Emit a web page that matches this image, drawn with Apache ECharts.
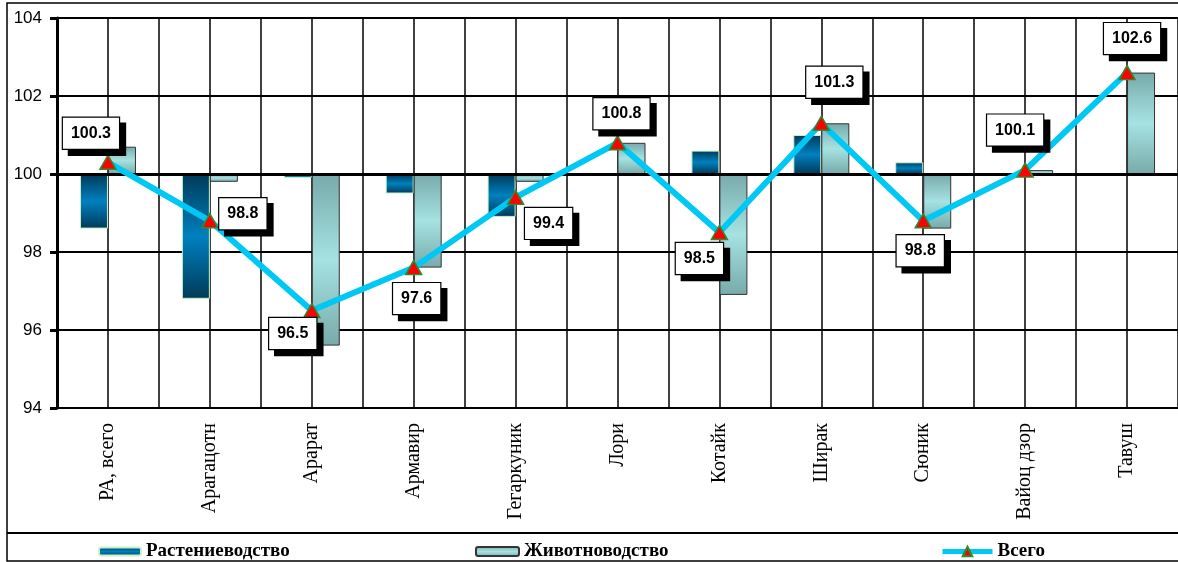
<!DOCTYPE html>
<html>
<head>
<meta charset="utf-8">
<script src="https://cdn.jsdelivr.net/npm/echarts@6/dist/echarts.min.js"></script>
<style>
html,body{margin:0;padding:0;background:#fff;}
#chart{width:1178px;height:562px;}
</style>
</head>
<body>
<div id="chart"></div>
<script>
// ---- data ----
const categories = ['РА, всего','Арагацотн','Арарат','Армавир','Гегаркуник','Лори','Котайк','Ширак','Сюник','Вайоц дзор','Тавуш'];
const plantValues = [98.6, 96.8, 99.9, 99.5, 98.9, 100.0, 100.6, 101.0, 100.3, 100.0, 100.0];
const animalValues = [100.7, 99.8, 95.6, 97.6, 99.8, 100.8, 96.9, 101.3, 98.6, 100.1, 102.6];
const totalValues = [100.3, 98.8, 96.5, 97.6, 99.4, 100.8, 98.5, 101.3, 98.8, 100.1, 102.6];
const seriesNames = ['Растениеводство', 'Животноводство', 'Всего'];
const baseline = 100;
// label box offsets (layout only)
const labelOffsets = [[-17,-29],[33,-7],[-19,23],[3,31],[33,26],[4,-29],[-20,26],[13,-41],[-3,30],[-10,-40],[5,-34]];

const chart = echarts.init(document.getElementById('chart'), null, {renderer:'canvas'});

function baseOf(arr){ return arr.map(v => Math.min(v, baseline)); }
function deltaOf(arr){ return arr.map(v => +(Math.abs(v - baseline)).toFixed(3)); }

const darkGrad = {type:'linear', x:0, y:0, x2:0, y2:1, colorStops:[
  {offset:0, color:'#003a58'},{offset:0.5, color:'#0080bf'},{offset:1, color:'#003a58'}]};
const lightGrad = {type:'linear', x:0, y:0, x2:0, y2:1, colorStops:[
  {offset:0, color:'#78aaaa'},{offset:0.5, color:'#a6e2e2'},{offset:1, color:'#78aaaa'}]};

const halfBands = [];
for (let i = 0; i < categories.length * 2; i++) halfBands.push(String(i));

const legendText = {fontFamily:'Liberation Serif', fontWeight:'bold', fontSize:19, color:'#000'};

const option = {
  animation:false,
  backgroundColor:'#fff',
  grid:{left:57, top:18, width:1130, height:390, containLabel:false},
  graphic:[
    {type:'rect', shape:{x:7, y:3, width:1200, height:558}, style:{fill:'none', stroke:'#000', lineWidth:1.5}, silent:true, z:-1},
    {type:'line', shape:{x1:7, y1:533, x2:1200, y2:533}, style:{stroke:'#000', lineWidth:2}, silent:true}
  ],
  legend:[
    {data:[seriesNames[0]], left:93, top:537, itemWidth:42, itemHeight:8, itemGap:0, textStyle:legendText},
    {data:[seriesNames[1]], left:470, top:537, itemWidth:43, itemHeight:9, itemGap:0, textStyle:legendText},
    {data:[seriesNames[2]], left:935, top:537, itemWidth:50, itemHeight:12, itemGap:0, textStyle:legendText,
     lineStyle:{width:5, color:'#00c8f5'}}
  ],
  xAxis:[
    {type:'category', data:categories, position:'bottom', boundaryGap:true,
     axisLine:{show:true, onZero:false, lineStyle:{color:'#000', width:2}},
     axisTick:{show:false},
     splitLine:{show:false},
     axisLabel:{interval:0, rotate:90, margin:15, fontFamily:'Liberation Serif', fontSize:20, color:'#000'}},
    {type:'category', data:halfBands, position:'top', boundaryGap:true,
     axisLine:{show:false}, axisTick:{show:false}, axisLabel:{show:false, interval:0},
     splitLine:{show:true, interval:0, lineStyle:{color:'#000', width:1.5}}}
  ],
  yAxis:{type:'value', min:94, max:104, interval:2,
    axisLine:{show:true, lineStyle:{color:'#000', width:3}},
    axisTick:{show:true, length:7, lineStyle:{color:'#000', width:3}},
    axisLabel:{margin:15, fontFamily:'Liberation Sans', fontSize:17, color:'#000'},
    splitLine:{show:true, lineStyle:{color:'#000', width:2}}
  },
  series:[
    {name:'_b1', type:'bar', stack:'plant', data:baseOf(plantValues), barWidth:28, barGap:'0%',
     itemStyle:{color:'transparent'}, silent:true, z:2},
    {name:seriesNames[0], type:'bar', stack:'plant', data:deltaOf(plantValues), barWidth:28, barGap:'0%',
     itemStyle:{color:darkGrad, borderColor:'#c6f2c6', borderWidth:1}, z:2},
    {name:'_b2', type:'bar', stack:'animal', data:baseOf(animalValues), barWidth:28, barGap:'0%',
     itemStyle:{color:'transparent'}, silent:true, z:2},
    {name:seriesNames[1], type:'bar', stack:'animal', data:deltaOf(animalValues), barWidth:28, barGap:'0%',
     itemStyle:{color:lightGrad, borderColor:'#333', borderWidth:1}, z:2,
     markLine:{silent:true, symbol:'none', label:{show:false},
       lineStyle:{color:'#000', width:3, type:'solid'}, data:[{yAxis:baseline}]}},
    {name:seriesNames[2], type:'line', data:totalValues,
     symbol:'triangle', symbolSize:[16,14], z:5,
     lineStyle:{color:'#00c8f5', width:6},
     itemStyle:{color:'#ff0000', borderColor:'#2e8b2e', borderWidth:1.5},
     label:{show:true, position:'inside', formatter:p=>p.value.toFixed(1),
       fontFamily:'Liberation Sans', fontWeight:'bold', fontSize:16, color:'#000',
       backgroundColor:'#fff', borderColor:'#000', borderWidth:1.2, padding:[8,8,7,8],
       shadowColor:'#000', shadowBlur:0, shadowOffsetX:6, shadowOffsetY:6},
     labelLayout:function(p){ const o = labelOffsets[p.dataIndex]; return {dx:o[0], dy:o[1], hideOverlap:false}; }}
  ]
};
chart.setOption(option);
</script>
</body>
</html>
